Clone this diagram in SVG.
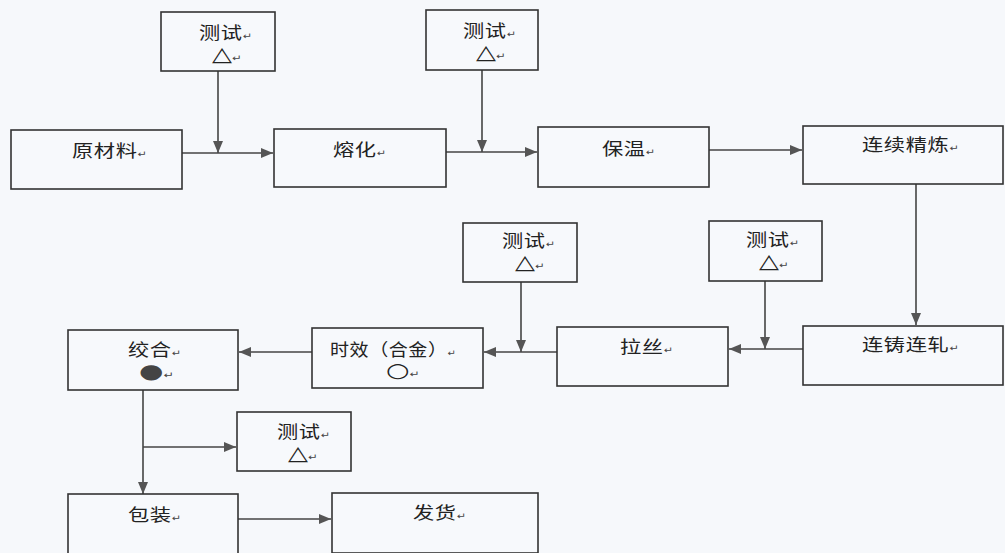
<svg xmlns="http://www.w3.org/2000/svg" width="1005" height="553" viewBox="0 0 1005 553">
<style>
.bg{fill:#f6f8fb}
.box{fill:#f7f9fc;stroke:#333;stroke-width:1.6}
.t{font-family:"Noto Sans CJK SC","Noto Sans",sans-serif;font-size:17px;fill:#222;letter-spacing:0.5px}
.s{font-family:"DejaVu Sans",sans-serif;font-size:20px;fill:#222}
.r{font-family:"DejaVu Sans",sans-serif;font-size:9px;fill:#444;letter-spacing:0}
.c{fill:none;stroke:#444;stroke-width:1.6}
</style>
<defs>
<marker id="ah" markerUnits="userSpaceOnUse" markerWidth="12" markerHeight="10" refX="12" refY="5" orient="auto">
<path d="M0,0 L12,5 L0,10 Z" fill="#555"/>
</marker>
</defs>
<rect class="bg" x="0" y="0" width="1005" height="553"/>

<g id="connectors">
<line class="c" x1="182" y1="153" x2="273" y2="153" marker-end="url(#ah)"/>
<line class="c" x1="218" y1="71" x2="218" y2="153" marker-end="url(#ah)"/>
<line class="c" x1="446" y1="152" x2="537" y2="152" marker-end="url(#ah)"/>
<line class="c" x1="482" y1="70" x2="482" y2="152" marker-end="url(#ah)"/>
<line class="c" x1="709" y1="150" x2="802" y2="150" marker-end="url(#ah)"/>
<line class="c" x1="916" y1="184" x2="916" y2="325" marker-end="url(#ah)"/>
<line class="c" x1="803" y1="349" x2="729" y2="349" marker-end="url(#ah)"/>
<line class="c" x1="765" y1="281" x2="765" y2="349" marker-end="url(#ah)"/>
<line class="c" x1="557" y1="352" x2="484" y2="352" marker-end="url(#ah)"/>
<line class="c" x1="521" y1="282" x2="521" y2="352" marker-end="url(#ah)"/>
<line class="c" x1="312" y1="352" x2="239" y2="352" marker-end="url(#ah)"/>
<line class="c" x1="143" y1="390" x2="143" y2="494" marker-end="url(#ah)"/>
<line class="c" x1="143" y1="447" x2="236" y2="447" marker-end="url(#ah)"/>
<line class="c" x1="238" y1="519" x2="331" y2="519" marker-end="url(#ah)"/>
</g>

<g id="test1">
<rect class="box" x="161" y="12" width="114" height="59"/>
<text class="t" transform="translate(199,39) scale(1.25,1)">测试<tspan class="r">↵</tspan></text>
<text class="s" transform="translate(212,61) scale(1.3,1)">△<tspan class="r">↵</tspan></text>
</g>
<g id="raw">
<rect class="box" x="11" y="130" width="171" height="59"/>
<text class="t" transform="translate(72,157) scale(1.25,1)">原材料<tspan class="r">↵</tspan></text>
</g>
<g id="melt">
<rect class="box" x="274" y="129" width="172" height="58"/>
<text class="t" transform="translate(333,156) scale(1.25,1)">熔化<tspan class="r">↵</tspan></text>
</g>
<g id="test2">
<rect class="box" x="426" y="10" width="112" height="60"/>
<text class="t" transform="translate(463,37) scale(1.25,1)">测试<tspan class="r">↵</tspan></text>
<text class="s" transform="translate(476,59) scale(1.3,1)">△<tspan class="r">↵</tspan></text>
</g>
<g id="hold">
<rect class="box" x="538" y="127" width="171" height="60"/>
<text class="t" transform="translate(602,155) scale(1.25,1)">保温<tspan class="r">↵</tspan></text>
</g>
<g id="refine">
<rect class="box" x="803" y="126" width="200" height="58"/>
<text class="t" transform="translate(862,151) scale(1.25,1)">连续精炼<tspan class="r">↵</tspan></text>
</g>
<g id="cast">
<rect class="box" x="803" y="326" width="200" height="59"/>
<text class="t" transform="translate(862,351) scale(1.25,1)">连铸连轧<tspan class="r">↵</tspan></text>
</g>
<g id="test3">
<rect class="box" x="709" y="221" width="113" height="60"/>
<text class="t" transform="translate(746,246) scale(1.25,1)">测试<tspan class="r">↵</tspan></text>
<text class="s" transform="translate(759,268) scale(1.3,1)">△<tspan class="r">↵</tspan></text>
</g>
<g id="draw">
<rect class="box" x="557" y="327" width="171" height="59"/>
<text class="t" transform="translate(620,353) scale(1.25,1)">拉丝<tspan class="r">↵</tspan></text>
</g>
<g id="test4">
<rect class="box" x="463" y="223" width="114" height="59"/>
<text class="t" transform="translate(502,247) scale(1.25,1)">测试<tspan class="r">↵</tspan></text>
<text class="s" transform="translate(515,269) scale(1.3,1)">△<tspan class="r">↵</tspan></text>
</g>
<g id="aging">
<rect class="box" x="312" y="328" width="171" height="60"/>
<text class="t" transform="translate(330,356) scale(1.12,1)">时效（合金）<tspan class="r">↵</tspan></text>
<text class="s" transform="translate(386,377) scale(1.35,1)">○<tspan class="r">↵</tspan></text>
</g>
<g id="strand">
<rect class="box" x="68" y="330" width="170" height="60"/>
<text class="t" transform="translate(128,356) scale(1.25,1)">绞合<tspan class="r">↵</tspan></text>
<text class="s" transform="translate(139,378) scale(1.4,1)" style="fill:#444">●<tspan class="r">↵</tspan></text>
</g>
<g id="test5">
<rect class="box" x="237" y="412" width="114" height="59"/>
<text class="t" transform="translate(277,438) scale(1.25,1)">测试<tspan class="r">↵</tspan></text>
<text class="s" transform="translate(288,460) scale(1.3,1)">△<tspan class="r">↵</tspan></text>
</g>
<g id="pack">
<rect class="box" x="68" y="494" width="170" height="62"/>
<text class="t" transform="translate(128,521) scale(1.25,1)">包装<tspan class="r">↵</tspan></text>
</g>
<g id="ship">
<rect class="box" x="332" y="493" width="206" height="60"/>
<text class="t" transform="translate(413,519) scale(1.25,1)">发货<tspan class="r">↵</tspan></text>
</g>
</svg>
